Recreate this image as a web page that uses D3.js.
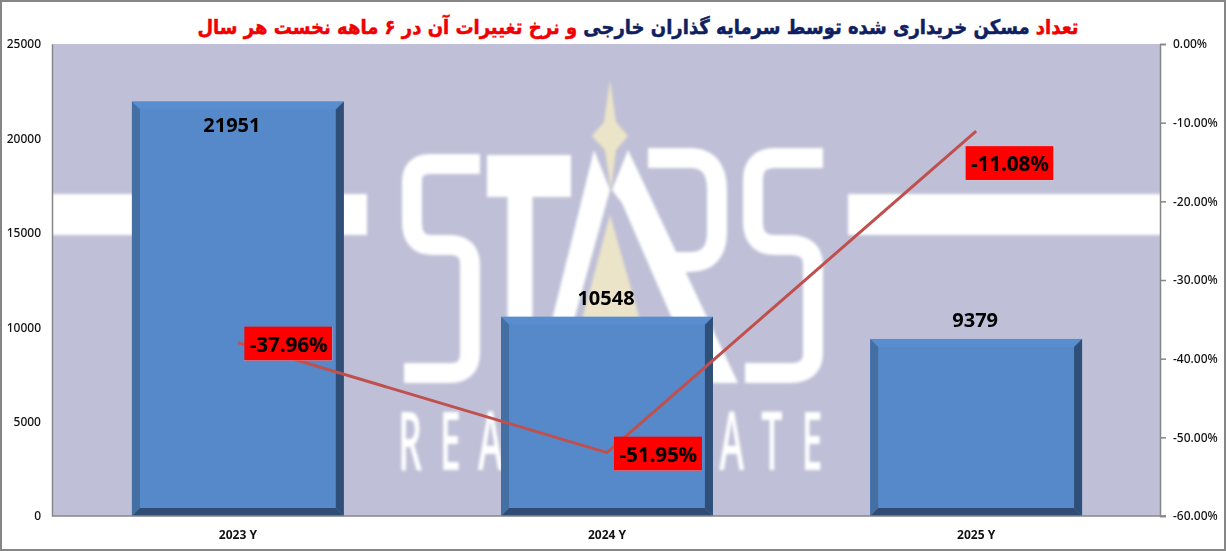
<!DOCTYPE html>
<html><head><meta charset="utf-8">
<script src="https://cdn.jsdelivr.net/npm/d3@7"></script>
<style>
html,body{margin:0;padding:0;background:#fff}
svg{display:block}
text{font-family:"Noto Sans",sans-serif}
.tick text{font-size:12px;fill:#111;font-weight:500}
</style></head><body>
<svg id="c" width="1226" height="551"></svg>
<script>
const categories=["2023 Y","2024 Y","2025 Y"];
const buyers=[21951,10548,9379];
const changePct=[-37.96,-51.95,-11.08];
const leftTicks=[0,5000,10000,15000,20000,25000];
const rightTicks=[0,-10,-20,-30,-40,-50,-60];
const titleParts=[["تعداد ","#f00000"],["مسکن خریداری شده توسط سرمایه گذاران خارجی ","#0f2060"],["و نرخ تغییرات آن در ۶ ماهه نخست هر سال","#f00000"]];
const wordmark=["R","E","A","","","","","","A","T","E"];

const W=1226,H=551,m={l:52,r:66,t:44,b:35};
const svg=d3.select("#c");
const x=d3.scaleBand().domain(categories).range([m.l,W-m.r+2]).paddingInner(0.426).paddingOuter(0.2165);
const y=d3.scaleLinear().domain([0,25000]).range([H-m.b,m.t]);
const y2=d3.scaleLinear().domain([-60,0]).range([H-m.b,m.t]);

svg.append("rect").attr("x",1).attr("y",1).attr("width",W-2).attr("height",H-2).attr("fill","#fff").attr("stroke","#868686").attr("stroke-width",2);
const defs=svg.append("defs");
defs.append("filter").attr("id","b").append("feGaussianBlur").attr("stdDeviation",1.8);
defs.append("clipPath").attr("id","pc").append("rect").attr("x",m.l).attr("y",m.t).attr("width",W-m.r-m.l).attr("height",H-m.t-m.b);

// plot background and watermark
svg.append("rect").attr("x",m.l).attr("y",m.t).attr("width",W-m.r-m.l).attr("height",H-m.t-m.b).attr("fill","#bfc0d7");
const wm=svg.append("g").attr("clip-path","url(#pc)").append("g").attr("filter","url(#b)");
// side bands
wm.append("rect").attr("x",40).attr("y",194).attr("width",327).attr("height",41).attr("fill","#fff");
wm.append("rect").attr("x",848).attr("y",194).attr("width",330).attr("height",41).attr("fill","#fff");
// gold star
wm.append("path").attr("fill","#ece4c8").attr("d","M610,80 L616,122 L628,136 L616,150 L611,190 L605,150 L592,136 L604,122 Z");
wm.append("path").attr("fill","#ece4c8").attr("d","M610,215 L640,320 L582,320 Z");
// STARS letters
const st=wm.append("g").attr("fill","none").attr("stroke","#fff").attr("stroke-width",20);
st.append("path").attr("d","M480,164 L430,164 Q412,164 412,182 L412,222 Q412,245 432,245 L450,245 Q470,245 470,265 L470,353 Q470,373 450,373 L404,373");
st.append("path").attr("stroke-width",42).attr("d","M487,176 L571,176");
st.append("path").attr("stroke-width",25).attr("d","M520,176 L520,383");
wm.append("path").attr("fill","#fff").attr("d","M594,150 L610,190 L574,320 L552,320 Z");
wm.append("path").attr("fill","#fff").attr("d","M628,150 L738,383 L700,383 L622,203 L612,190 Z");
st.append("path").attr("d","M648,158 L690,158 Q717,158 717,190 L717,232 Q717,262 690,262 L665,262");
st.append("path").attr("d","M823,158 L775,158 Q753,158 753,180 L753,222 Q753,245 775,245 L790,245 Q813,245 813,265 L813,353 Q813,373 790,373 L745,373");
// REAL ESTATE line
const lx=d3.scalePoint().domain(d3.range(wordmark.length)).range([410,812]);
wm.selectAll("text.w").data(wordmark).join("text").attr("class","w")
  .attr("transform",(d,i)=>`translate(${lx(i)},470) scale(.46,1)`)
  .attr("text-anchor","middle").attr("font-size",82).attr("font-weight",600).attr("fill","#fff").style("font-family","'Open Sans',sans-serif").text(d=>d);

// bars with bevel
const bev=8;
const bars=svg.selectAll("g.bar").data(categories.map((c,i)=>({c,v:buyers[i]}))).join("g").attr("class","bar");
const face=(fn,fill)=>bars.append("polygon").attr("fill",fn.fill||fill).attr("points",fn);
const pts=d=>({a:x(d.c),b:x(d.c)+x.bandwidth(),t:y(d.v),f:y(0)});
bars.append("rect").attr("x",d=>x(d.c)).attr("y",d=>y(d.v)).attr("width",x.bandwidth()).attr("height",d=>y(0)-y(d.v)).attr("fill","#5589c9");
face(d=>{const p=pts(d);return [[p.a,p.t],[p.b,p.t],[p.b-bev,p.t+bev],[p.a+bev,p.t+bev]].join(" ")},"#588dd0");
face(d=>{const p=pts(d);return [[p.a,p.t],[p.a+bev,p.t+bev],[p.a+bev,p.f-bev],[p.a,p.f]].join(" ")},"#446fa3");
face(d=>{const p=pts(d);return [[p.b,p.t],[p.b-bev,p.t+bev],[p.b-bev,p.f-bev],[p.b,p.f]].join(" ")},"#2f4f78");
face(d=>{const p=pts(d);return [[p.a,p.f],[p.a+bev,p.f-bev],[p.b-bev,p.f-bev],[p.b,p.f]].join(" ")},"#2f4d74");

// axes
const axL=svg.append("g").attr("transform",`translate(${m.l},0)`).call(d3.axisLeft(y).tickValues(leftTicks).tickSize(0).tickPadding(11).tickFormat(d3.format("d")));
const axR=svg.append("g").attr("transform",`translate(${W-m.r},0)`).call(d3.axisRight(y2).tickValues(rightTicks).tickSize(6).tickPadding(7).tickFormat(d=>d.toFixed(2)+"%"));
const axB=svg.append("g").attr("transform",`translate(0,${H-m.b})`).call(d3.axisBottom(x).tickSize(0).tickPadding(14));
[axL,axR,axB].forEach(a=>{a.selectAll(".domain").attr("stroke","#868686").attr("stroke-width",1.5);a.selectAll("line").attr("stroke","#868686").attr("stroke-width",1.5);});
axB.selectAll("text").style("font-weight",700).style("font-size","12px");
axB.select(".domain").attr("d",`M${m.l},0H${W-m.r+6}`);

// line
const cx=i=>x(categories[i])+x.bandwidth()/2;
svg.append("path").datum(changePct).attr("fill","none").attr("stroke","#c0504d").attr("stroke-width",3)
  .attr("d",d3.line().x((d,i)=>cx(i)).y(d=>y2(d)));

// bar value labels
const valDy=[23,-19,-19];
const valDx=[-6,-1,-1];
svg.selectAll("text.val").data(buyers).join("text").attr("class","val")
  .attr("x",(d,i)=>cx(i)+valDx[i]).attr("y",(d,i)=>y(d)+valDy[i]+7)
  .attr("text-anchor","middle").attr("font-size",20).attr("font-weight",700).attr("fill","#000").text(d=>d);

// line value labels
const boxDx=[50.5,51,33.5];
const boxDy=[1,1,32];
const boxW=88,boxH=34;
const lab=svg.selectAll("g.pct").data(changePct).join("g").attr("class","pct")
  .attr("transform",(d,i)=>`translate(${cx(i)+boxDx[i]},${y2(d)+boxDy[i]})`);
lab.append("rect").attr("x",-boxW/2).attr("y",-boxH/2).attr("width",boxW).attr("height",boxH).attr("fill","#f00");
lab.append("text").attr("text-anchor","middle").attr("y",8).attr("font-size",20.5).attr("font-weight",700).attr("fill","#000").text(d=>d.toFixed(2)+"%");

// title
const t=svg.append("text").attr("transform","translate(638,34) scale(.9,1)").attr("text-anchor","middle").attr("direction","rtl")
  .style("font-family","'DejaVu Sans',sans-serif").attr("font-size",20).attr("font-weight",700);
titleParts.forEach(p=>t.append("tspan").attr("fill",p[1]).attr("stroke",p[1]).attr("stroke-width",.5).text(p[0]));
</script></body></html>
